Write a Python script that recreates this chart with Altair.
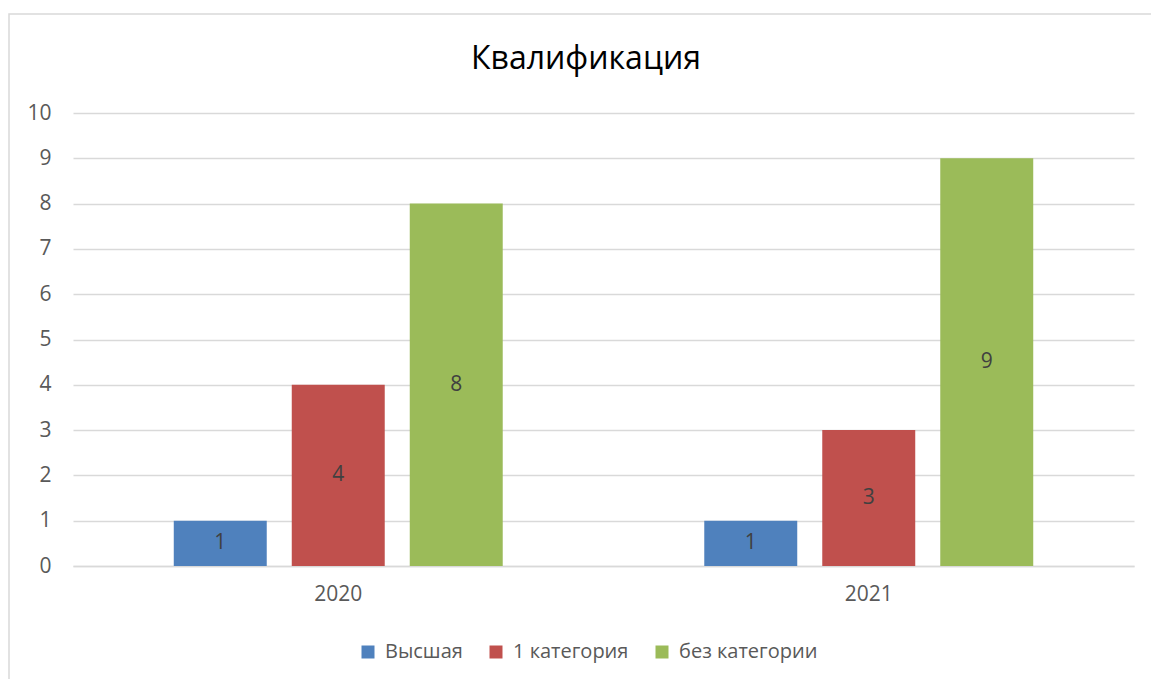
import altair as alt
import pandas as pd

years = ["2020", "2021"]
series = ["Высшая", "1 категория", "без категории"]
values_2020 = [1, 4, 8]
values_2021 = [1, 3, 9]
colors = ["#4F81BD", "#C0504D", "#9BBB59"]
y_ticks = list(range(0, 11))
title_text = "Квалификация"

rows = []
for y, vals in zip(years, [values_2020, values_2021]):
    for s, v in zip(series, vals):
        rows.append({"year": y, "series": s, "value": v})
df = pd.DataFrame(rows)

FONT = "Open Sans"
W, H = 1061, 453
LEFT, TOP = 73, 113

x_enc = alt.X("year:N", sort=years, title=None,
              scale=alt.Scale(paddingInner=0, paddingOuter=0),
              axis=alt.Axis(labelAngle=0, ticks=False, domain=True, domainColor="#d9d9d9",
                            domainWidth=1.5, grid=False,
                            labelFontSize=21, labelColor="#595959", labelFont=FONT,
                            labelPadding=17))
xoff = alt.XOffset("series:N", sort=series,
                   scale=alt.Scale(paddingInner=0.212, paddingOuter=0.854))
y_enc = alt.Y("value:Q", title=None,
              scale=alt.Scale(domain=[0, 10], nice=False),
              axis=alt.Axis(values=y_ticks, ticks=False, domain=False, grid=True,
                            gridColor="#d9d9d9", gridWidth=1.5,
                            labelFontSize=21, labelColor="#595959", labelFont=FONT,
                            labelPadding=22))

bars = alt.Chart(df).mark_bar().encode(
    x=x_enc, xOffset=xoff, y=y_enc,
    color=alt.Color("series:N", sort=series,
                    scale=alt.Scale(domain=series, range=colors),
                    legend=alt.Legend(title=None, orient="none", direction="horizontal",
                                      legendX=285, legendY=529, padding=0,
                                      symbolType="square", symbolSize=169,
                                      symbolStrokeWidth=0,
                                      labelFontSize=20, labelColor="#595959", labelFont=FONT,
                                      labelOffset=7, columnPadding=23)),
)

labels = alt.Chart(df).mark_text(fontSize=21, color="#404040", font=FONT,
                                 baseline="middle").encode(
    x=alt.X("year:N", sort=years),
    xOffset=alt.XOffset("series:N", sort=series),
    y=alt.Y("mid:Q"), text="value:Q",
).transform_calculate(mid="datum.value / 2")

frame = pd.DataFrame({"t": [title_text]})

border = alt.Chart(frame).mark_rect(
    fill=None, stroke="#d9d9d9", strokeWidth=1.5).encode(
    x=alt.value(9 - LEFT), x2=alt.value(1151 - LEFT + 20),
    y=alt.value(14 - TOP), y2=alt.value(679 - TOP + 20),
)

title = alt.Chart(frame).mark_text(
    font=FONT, fontSize=32, color="#000000", align="center", baseline="alphabetic").encode(
    x=alt.value(586 - LEFT), y=alt.value(69 - TOP), text="t:N",
)

chart = alt.layer(border, title, bars, labels).properties(
    width=W, height=H,
    background="white",
    autosize=alt.AutoSizeParams(type="none"),
    padding={"left": LEFT, "top": TOP, "right": 1151 - LEFT - W, "bottom": 679 - TOP - H},
).configure_view(stroke="transparent", strokeWidth=0)

chart.save("out.html", embed_options={"renderer": "svg", "actions": False})
